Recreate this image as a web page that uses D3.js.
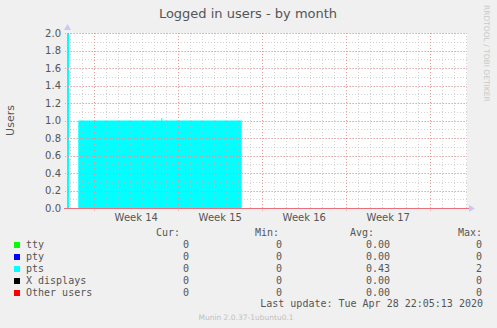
<!DOCTYPE html>
<html>
<head>
<meta charset="utf-8">
<script src="https://cdn.jsdelivr.net/npm/d3@7"></script>
<style>
  html, body { margin: 0; padding: 0; background: #f0f0f0; }
  svg { display: block; }
</style>
</head>
<body>
<div id="chart"></div>
<script>
// Window shown by the graph (UTC), one month view
const windowStart = Date.UTC(2020, 2, 27, 17, 27);
const windowHours = 800;

// pts series: hours since window start -> logged in users (step)
const ptsHours = [0, 4, 22.5, 188.5, 190.5, 349.5, 800];
const ptsValues = [2, 0, 1, 1.03, 1, 0, 0];

const yTicks = [0, 0.2, 0.4, 0.6, 0.8, 1.0, 1.2, 1.4, 1.6, 1.8, 2.0];

// legend table
const seriesNames = ["tty", "pty", "pts", "X displays", "Other users"];
const seriesColors = ["#00ff00", "#0000ff", "#00ffff", "#000000", "#ff0000"];
const curValues = ["0", "0", "0", "0", "0"];
const minValues = ["0", "0", "0", "0", "0"];
const avgValues = ["0.00", "0.00", "0.43", "0.00", "0.00"];
const maxValues = ["0", "0", "2", "0", "0"];

const W = 497, H = 328;
const plot = { left: 67, right: 467, top: 33, bottom: 208 };

const svg = d3.select("#chart").append("svg")
  .attr("width", W)
  .attr("height", H);

svg.append("rect").attr("width", W).attr("height", H).attr("fill", "#f0f0f0");

const x = d3.scaleUtc()
  .domain([new Date(windowStart), new Date(windowStart + windowHours * 3600e3)])
  .range([plot.left, plot.right]);

const y = d3.scaleLinear()
  .domain([0, 2])
  .range([plot.bottom, plot.top]);

const sans = "DejaVu Sans, sans-serif";
const mono = "DejaVu Sans Mono, monospace";

// Plot background
svg.append("rect")
  .attr("x", plot.left).attr("y", plot.top)
  .attr("width", plot.right - plot.left)
  .attr("height", plot.bottom - plot.top)
  .attr("fill", "#ffffff");

// ---- Data area (pts) ----
const ptsData = ptsHours.map((h, i) => ({
  t: new Date(windowStart + h * 3600e3),
  v: ptsValues[i]
}));

const area = d3.area()
  .curve(d3.curveStepAfter)
  .x(d => x(d.t))
  .y0(y(0))
  .y1(d => y(d.v));

svg.append("path")
  .datum(ptsData)
  .attr("d", area)
  .attr("fill", "#00ffff");

// ---- Grid (drawn over the data, like rrdtool) ----
const gGrid = svg.append("g").attr("shape-rendering", "crispEdges");

const [d0, d1] = x.domain();
const days = d3.utcDay.range(d0, d1);
const weeks = d3.utcMonday.range(d0, d1);

gGrid.selectAll("line.vminor")
  .data(days)
  .join("line")
  .attr("x1", d => Math.round(x(d)) + 0.5).attr("x2", d => Math.round(x(d)) + 0.5)
  .attr("y1", plot.top).attr("y2", plot.bottom + 2)
  .attr("stroke", "#b8b8b8")
  .attr("stroke-opacity", 0.6)
  .attr("stroke-dasharray", "1,2");

const minorY = d3.range(0, 21).map(i => i / 10);
gGrid.selectAll("line.hminor")
  .data(minorY)
  .join("line")
  .attr("x1", plot.left).attr("x2", plot.right)
  .attr("y1", d => Math.round(y(d)) + 0.5).attr("y2", d => Math.round(y(d)) + 0.5)
  .attr("stroke", "#b8b8b8")
  .attr("stroke-opacity", 0.6)
  .attr("stroke-dasharray", "1,2");

gGrid.selectAll("line.hmajor")
  .data(yTicks)
  .join("line")
  .attr("x1", plot.left - 2).attr("x2", plot.right)
  .attr("y1", d => Math.round(y(d)) + 0.5).attr("y2", d => Math.round(y(d)) + 0.5)
  .attr("stroke", "#f08080")
  .attr("stroke-opacity", 0.7)
  .attr("stroke-dasharray", "1,2");

gGrid.selectAll("line.vmajor")
  .data(weeks)
  .join("line")
  .attr("x1", d => Math.round(x(d)) + 0.5).attr("x2", d => Math.round(x(d)) + 0.5)
  .attr("y1", plot.top).attr("y2", plot.bottom + 3)
  .attr("stroke", "#f08080")
  .attr("stroke-opacity", 0.7)
  .attr("stroke-dasharray", "1,2");

// ---- Axes ----
svg.append("line")
  .attr("x1", plot.left - 3).attr("x2", plot.right + 2)
  .attr("y1", plot.bottom + 0.5).attr("y2", plot.bottom + 0.5)
  .attr("stroke", "#e8707a")
  .attr("shape-rendering", "crispEdges");

// axis arrows
svg.append("path")
  .attr("d", `M${plot.left - 3},${plot.top - 3} L${plot.left + 0.5},${plot.top - 9} L${plot.left + 4},${plot.top - 3} Z`)
  .attr("fill", "#c8c8f4");
svg.append("path")
  .attr("d", `M${plot.right + 2},${plot.bottom - 3} L${plot.right + 8},${plot.bottom + 0.5} L${plot.right + 2},${plot.bottom + 4} Z`)
  .attr("fill", "#c8c8f4");

// y tick labels
svg.append("g")
  .selectAll("text")
  .data(yTicks)
  .join("text")
  .attr("x", plot.left - 6)
  .attr("y", d => y(d) + 3.5)
  .attr("text-anchor", "end")
  .attr("font-family", sans)
  .attr("font-size", 10)
  .attr("fill", "#555")
  .text(d => d.toFixed(1));

// week labels, centred on each week
const weekFmt = d3.utcFormat("%V");
svg.append("g")
  .selectAll("text")
  .data(weeks.filter(w => d3.utcDay.offset(w, 7) <= d1))
  .join("text")
  .attr("x", d => x(d3.utcHour.offset(d, 84)))
  .attr("y", plot.bottom + 13)
  .attr("text-anchor", "middle")
  .attr("font-family", sans)
  .attr("font-size", 10)
  .attr("fill", "#555")
  .text(d => "Week " + (+weekFmt(d)));

// Title
svg.append("text")
  .attr("x", 248).attr("y", 18)
  .attr("text-anchor", "middle")
  .attr("font-family", sans)
  .attr("font-size", 13)
  .attr("fill", "#555")
  .text("Logged in users - by month");

// Y label
svg.append("text")
  .attr("transform", `translate(14, ${(plot.top + plot.bottom) / 2}) rotate(-90)`)
  .attr("text-anchor", "middle")
  .attr("font-family", sans)
  .attr("font-size", 11)
  .attr("fill", "#555")
  .text("Users");

// RRDtool credit
svg.append("text")
  .attr("transform", "translate(484, 5) rotate(90)")
  .attr("text-anchor", "start")
  .attr("font-family", sans)
  .attr("font-size", 7.5)
  .attr("fill", "#c8c8c8")
  .text("RRDTOOL / TOBI OETIKER");

// ---- Legend ----
const gLeg = svg.append("g")
  .attr("font-family", mono)
  .attr("font-size", 10)
  .attr("fill", "#555");

const headerY = 236;
const rowY0 = 248, rowStep = 12;
const cols = [
  { head: "Cur:", headEnd: 180, valEnd: 189, vals: curValues },
  { head: "Min:", headStart: 255, valEnd: 282, vals: minValues },
  { head: "Avg:", headStart: 350, valEnd: 390, vals: avgValues },
  { head: "Max:", headEnd: 482, valEnd: 482, vals: maxValues }
];

cols.forEach(c => {
  gLeg.append("text")
    .attr("x", c.headEnd !== undefined ? c.headEnd : c.headStart)
    .attr("y", headerY)
    .attr("text-anchor", c.headEnd !== undefined ? "end" : "start")
    .text(c.head);
  gLeg.selectAll(null)
    .data(c.vals)
    .join("text")
    .attr("x", c.valEnd)
    .attr("y", (d, i) => rowY0 + i * rowStep)
    .attr("text-anchor", "end")
    .text(d => d);
});

gLeg.selectAll("rect.sw")
  .data(seriesColors)
  .join("rect")
  .attr("x", 14)
  .attr("y", (d, i) => rowY0 - 6 + i * rowStep)
  .attr("width", 6).attr("height", 6)
  .attr("fill", d => d);

gLeg.selectAll("text.name")
  .data(seriesNames)
  .join("text")
  .attr("x", 26)
  .attr("y", (d, i) => rowY0 + i * rowStep)
  .text(d => d);

gLeg.append("text")
  .attr("x", 483).attr("y", 307)
  .attr("text-anchor", "end")
  .text("Last update: Tue Apr 28 22:05:13 2020");

svg.append("text")
  .attr("x", 246).attr("y", 320)
  .attr("text-anchor", "middle")
  .attr("font-family", sans)
  .attr("font-size", 7.5)
  .attr("fill", "#c0c0c0")
  .text("Munin 2.0.37-1ubuntu0.1");
</script>
</body>
</html>
